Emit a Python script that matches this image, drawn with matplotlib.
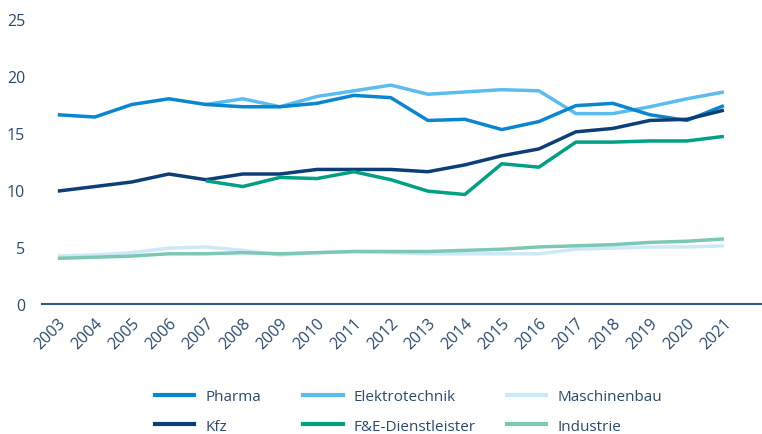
import numpy as np
import matplotlib.pyplot as plt
from matplotlib.lines import Line2D

years = list(range(2003, 2022))

pharma = [16.6, 16.4, 17.5, 18.0, 17.5, 17.3, 17.3, 17.6, 18.3, 18.1, 16.1, 16.2, 15.3, 16.0, 17.4, 17.6, 16.6, 16.1, 17.4]
elektro = [None, None, None, None, 17.5, 18.0, 17.3, 18.2, 18.7, 19.2, 18.4, 18.6, 18.8, 18.7, 16.7, 16.7, 17.3, 18.0, 18.6]
maschinenbau = [4.2, 4.3, 4.5, 4.9, 5.0, 4.7, 4.3, 4.5, 4.6, 4.5, 4.4, 4.4, 4.4, 4.4, 4.8, 4.9, 5.0, 5.0, 5.1]
kfz = [9.9, 10.3, 10.7, 11.4, 10.9, 11.4, 11.4, 11.8, 11.8, 11.8, 11.6, 12.2, 13.0, 13.6, 15.1, 15.4, 16.1, 16.2, 17.0]
fue = [None, None, None, None, 10.8, 10.3, 11.1, 11.0, 11.6, 10.9, 9.9, 9.6, 12.3, 12.0, 14.2, 14.2, 14.3, 14.3, 14.7]
industrie = [4.0, 4.1, 4.2, 4.4, 4.4, 4.5, 4.4, 4.5, 4.6, 4.6, 4.6, 4.7, 4.8, 5.0, 5.1, 5.2, 5.4, 5.5, 5.7]

names = ['Pharma', 'Elektrotechnik', 'Maschinenbau', 'Kfz', 'F&E-Dienstleister', 'Industrie']
colors = ['#0a86d0', '#5bbcef', '#cde8f8', '#0c3e78', '#00a085', '#7dc8b5']
series = [pharma, elektro, maschinenbau, kfz, fue, industrie]

txt = '#2b4a6e'
plt.rcParams['font.family'] = ['Open Sans', 'DejaVu Sans']

fig = plt.figure(figsize=(7.62, 4.35), dpi=100)
ax = fig.add_axes([0.055, 0.299, 0.945, 0.655])

x = np.arange(len(years))
# light ones first so the darker lines sit on top
order = [2, 5, 1, 0, 3, 4]
for i in order:
    y = np.array([np.nan if v is None else v for v in series[i]], dtype=float)
    ax.plot(x, y, color=colors[i], linewidth=2.5, solid_capstyle='butt')

ax.set_ylim(0, 25)
ax.set_xlim(-0.43, 19.03)
ax.set_yticks([0, 5, 10, 15, 20, 25])
ax.set_xticks(x)
ax.set_xticklabels([str(y) for y in years], rotation=45, ha='right', rotation_mode='anchor')
ax.tick_params(length=0, labelsize=11.5, colors=txt)
ax.tick_params(axis='x', pad=8)
ax.tick_params(axis='y', pad=12)
for s in ['top', 'right', 'left']:
    ax.spines[s].set_visible(False)
ax.spines['bottom'].set_color('#2d5a8a')
ax.spines['bottom'].set_linewidth(1.5)

# legend: three columns, each its own little legend so spacing matches
col_x = [0.203, 0.398, 0.665]
for c in range(3):
    idx = [c, c + 3]
    handles = [Line2D([], [], color=colors[i], linewidth=3) for i in idx]
    leg = fig.legend(handles, [names[i] for i in idx], loc='center left',
                     bbox_to_anchor=(col_x[c], 0.052), frameon=False, fontsize=11,
                     handlelength=2.6, labelspacing=0.95, handletextpad=0.7,
                     borderaxespad=0, borderpad=0)
    for t in leg.get_texts():
        t.set_color(txt)

fig.savefig('out.png', dpi=100)
